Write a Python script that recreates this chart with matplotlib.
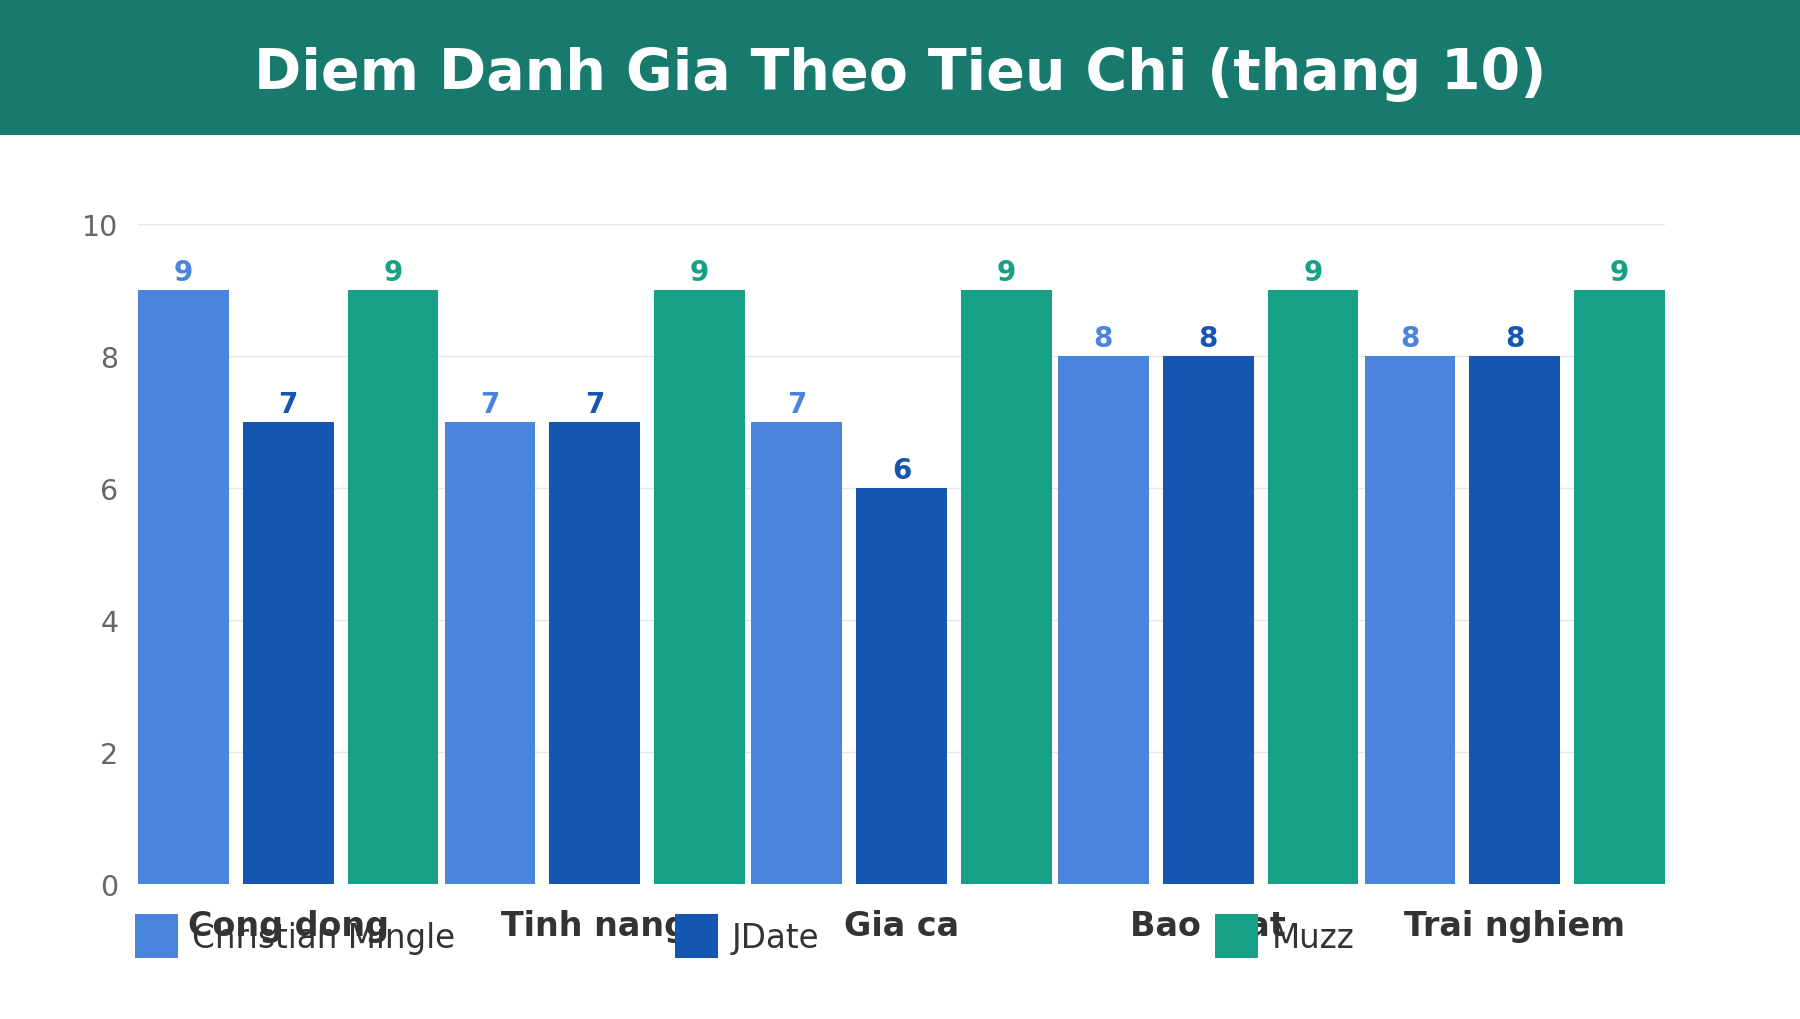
import matplotlib
matplotlib.use("Agg")
import matplotlib.pyplot as plt
import numpy as np
from matplotlib.patches import Rectangle, Patch

# Scores per criterion (October)
categories = ["Cong dong", "Tinh nang", "Gia ca", "Bao mat", "Trai nghiem"]
series_names = ["Christian Mingle", "JDate", "Muzz"]
christian_mingle = [9, 7, 7, 8, 8]
jdate = [7, 7, 6, 8, 8]
muzz = [9, 9, 9, 9, 9]
y_ticks = [0, 2, 4, 6, 8, 10]

colors = ["#4a84dc", "#1557b0", "#16a085"]
title = "Diem Danh Gia Theo Tieu Chi (thang 10)"

fig = plt.figure(figsize=(18, 10.2), dpi=100)
fig.patch.set_facecolor("white")

# header band
fig.patches.append(Rectangle((0, 1 - 136 / 1020), 1, 136 / 1020, transform=fig.transFigure,
                             facecolor="#177a6c", edgecolor="none", zorder=0))
fig.text(0.5, 1 - 74 / 1020, title, ha="center", va="center", color="white",
         fontsize=41, fontweight="bold")

ax = fig.add_axes([138 / 1800, 1 - 885 / 1020, (1665 - 138) / 1800, (885 - 225) / 1020])

x = np.arange(len(categories))
width = 0.296
offset = 0.342
all_vals = [christian_mingle, jdate, muzz]
for i, (name, vals, c) in enumerate(zip(series_names, all_vals, colors)):
    pos = x + (i - 1) * offset
    bars = ax.bar(pos, vals, width, color=c, label=name, zorder=3)
    for b, v in zip(bars, vals):
        ax.annotate(str(v), (b.get_x() + b.get_width() / 2, v), xytext=(0, 3),
                    textcoords="offset points", ha="center", va="bottom",
                    fontsize=20, fontweight="bold", color=c, zorder=4)

ax.set_xlim(-offset - width / 2, len(categories) - 1 + offset + width / 2)
ax.set_ylim(0, 10)
ax.set_yticks(y_ticks)
ax.set_xticks(x)
ax.set_xticklabels(categories, fontsize=24, fontweight="bold", color="#333333")
ax.tick_params(axis="x", length=0, pad=18)
ax.tick_params(axis="y", length=0, pad=14, labelsize=20.5, labelcolor="#666666")
ax.grid(axis="y", color="#e6e6e6", linewidth=1, zorder=0)
for s in ax.spines.values():
    s.set_visible(False)

# one legend entry per column, evenly spaced under the plot
for i, (name, c) in enumerate(zip(series_names, colors)):
    fig.legend([Patch(facecolor=c, edgecolor="none")], [name], loc="center left",
               bbox_to_anchor=((135 + 540 * i) / 1800, 1 - 937 / 1020),
               frameon=False, fontsize=23.5, handlelength=1.32, handleheight=1.65,
               handletextpad=0.43, borderpad=0, borderaxespad=0,
               labelcolor="#333333")

fig.savefig("out.png", dpi=100)
